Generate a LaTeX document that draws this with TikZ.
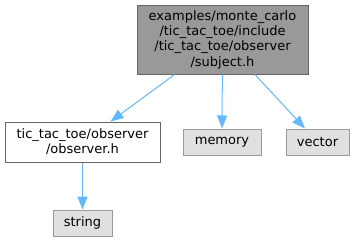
\documentclass[tikz,border=0pt]{standalone}
\usepackage{fontspec}
\setmainfont{DejaVu Sans}
\usetikzlibrary{arrows.meta}
\definecolor{edgeblue}{HTML}{63B8FF}
\definecolor{curfill}{HTML}{999999}
\definecolor{curdraw}{HTML}{666666}
\definecolor{sysfill}{HTML}{E0E0E0}
\definecolor{sysdraw}{HTML}{999999}
\tikzset{
  filebox/.style={draw=curdraw, fill=white, line width=1pt, inner sep=0pt, align=center,
    font=\fontsize{13}{15.3}\selectfont},
  currentbox/.style={filebox, fill=curfill},
  sysbox/.style={filebox, draw=sysdraw, fill=sysfill},
  dep/.style={draw=edgeblue, line width=1pt, -{Triangle[length=13pt,width=10pt]}},
}
\begin{document}
\begin{tikzpicture}[x=1pt, y=-1pt]
  \useasboundingbox (0,0) rectangle (354,241);
  \node[currentbox, minimum width=171pt, minimum height=69pt] (subject) at (222.5,39.5)
    {examples/monte\_carlo\\/tic\_tac\_toe/include\\/tic\_tac\_toe/observer\\/subject.h};
  \node[filebox, minimum width=155pt, minimum height=40pt] (observer) at (82.5,142)
    {tic\_tac\_toe/observer\\/observer.h};
  \node[sysbox, minimum width=78pt, minimum height=26pt] (memory) at (222,142) {memory};
  \node[sysbox, minimum width=63pt, minimum height=26pt] (vector) at (317.5,142) {vector};
  \node[sysbox, minimum width=59pt, minimum height=26pt] (string) at (82.5,223) {string};
  \draw[dep] (subject) -- (observer);
  \draw[dep] (subject) -- (memory);
  \draw[dep] (subject) -- (vector);
  \draw[dep] (observer) -- (string);
\end{tikzpicture}
\end{document}
